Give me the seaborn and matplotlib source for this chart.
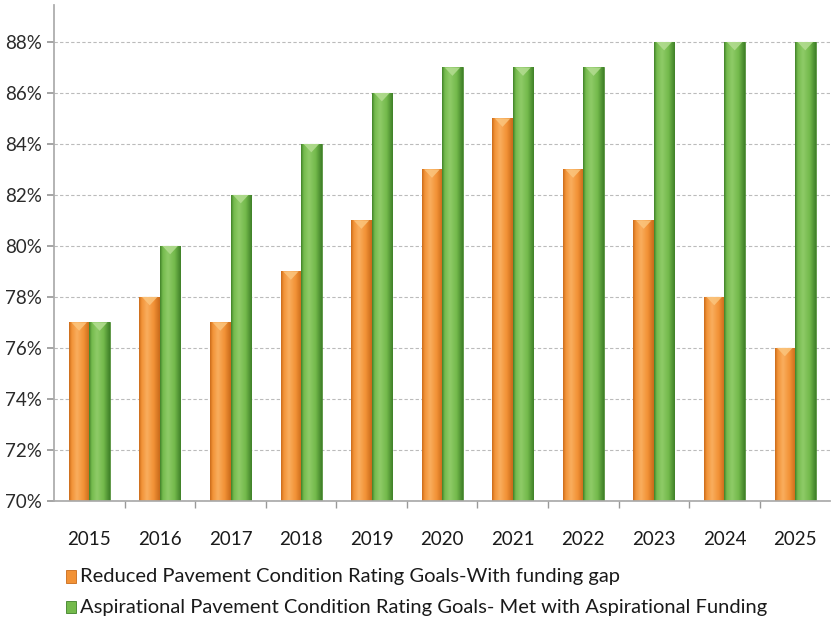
import numpy as np
import pandas as pd
import matplotlib
matplotlib.use("Agg")
import matplotlib.pyplot as plt
from matplotlib.colors import LinearSegmentedColormap
from matplotlib.patches import Polygon
import seaborn as sns

years = ["2015", "2016", "2017", "2018", "2019", "2020", "2021", "2022", "2023", "2024", "2025"]
reduced = [77, 78, 77, 79, 81, 83, 85, 83, 81, 78, 76]
aspirational = [77, 80, 82, 84, 86, 87, 87, 87, 88, 88, 88]
series_names = [
    "Reduced Pavement Condition Rating Goals-With funding gap",
    "Aspirational Pavement Condition Rating Goals- Met with Aspirational Funding",
]
ytick_vals = [70, 72, 74, 76, 78, 80, 82, 84, 86, 88]
y_min, y_max = 70, 89.45

sns.set_theme(style="white")
plt.rcParams["font.family"] = ["Lato", "DejaVu Sans"]

df = pd.DataFrame({
    "year": years * 2,
    "value": reduced + aspirational,
    "series": [series_names[0]] * len(years) + [series_names[1]] * len(years),
})

base_colors = ["#F29236", "#74BA4C"]
edge_colors = ["#C96A1A", "#3F8028"]
light_colors = ["#F9AE5E", "#8FCB68"]
top_colors = ["#FBC57E", "#B4DD92"]

fig = plt.figure(figsize=(8.32, 6.26), dpi=100)
ax = fig.add_axes([0.065, 0.2, 0.933, 0.792])

sns.barplot(data=df, x="year", y="value", hue="series", palette=base_colors,
            width=0.58, gap=0, ax=ax, legend=False, saturation=1)

ax.set_xlim(-0.5, len(years) - 0.5)
ax.set_ylim(y_min, y_max)

# shaded cylinder-like fill for each bar
for i, patch in enumerate(ax.patches):
    s = i // len(years)
    x0, y0 = patch.get_x(), patch.get_y()
    w, h = patch.get_width(), patch.get_height()
    top = y0 + h
    bottom = max(y0, y_min)
    cmap = LinearSegmentedColormap.from_list(
        "b", [(0.0, edge_colors[s]), (0.12, base_colors[s]), (0.38, light_colors[s]),
              (0.7, base_colors[s]), (1.0, edge_colors[s])])
    grad = np.linspace(0, 1, 64).reshape(1, -1)
    im = ax.imshow(grad, extent=[x0, x0 + w, bottom, top], aspect="auto",
                   cmap=cmap, zorder=patch.get_zorder() + 0.1, interpolation="bicubic")
    im.set_clip_path(patch)
    tri = Polygon([[x0 + w * 0.12, top], [x0 + w * 0.88, top], [x0 + w * 0.5, top - 0.33]],
                  closed=True, facecolor=top_colors[s], edgecolor="none",
                  zorder=patch.get_zorder() + 0.2, alpha=0.85)
    ax.add_patch(tri)
    patch.set_edgecolor(edge_colors[s])
    patch.set_linewidth(0.5)
ax.set_xlim(-0.5, len(years) - 0.5)
ax.set_ylim(y_min, y_max)

ax.set_yticks(ytick_vals)
ax.set_yticklabels([f"{v}%" for v in ytick_vals], fontsize=13.5, color="#2A2A2A")
ax.yaxis.grid(True, linestyle=(0, (3, 2)), color="#BBBBBB", linewidth=0.8)
ax.set_axisbelow(True)
ax.tick_params(axis="y", which="major", length=5, color="#999999", left=True, pad=4)
ax.set_xticks(range(len(years)))
ax.set_xticklabels(years, fontsize=13.5, color="#1A1A1A")
ax.tick_params(axis="x", which="major", length=0, pad=22)
ax.set_xticks(np.arange(0.5, len(years) - 0.5, 1), minor=True)
ax.tick_params(axis="x", which="minor", length=5, color="#999999", bottom=True)
ax.set_xlabel("")
ax.set_ylabel("")

for side in ["top", "right"]:
    ax.spines[side].set_visible(False)
ax.spines["left"].set_color("#AAAAAA")
ax.spines["bottom"].set_color("#AAAAAA")

# legend below the axes
for k, (name, y) in enumerate(zip(series_names, [0.079, 0.030])):
    fig.patches.append(plt.Rectangle((0.079, y - 0.010), 0.012, 0.020, transform=fig.transFigure,
                                     facecolor=base_colors[k], edgecolor=edge_colors[k], linewidth=0.6))
    fig.text(0.096, y, name, fontsize=14.5, color="#1A1A1A", va="center", ha="left")

fig.savefig("out.png", dpi=100, facecolor="white")
